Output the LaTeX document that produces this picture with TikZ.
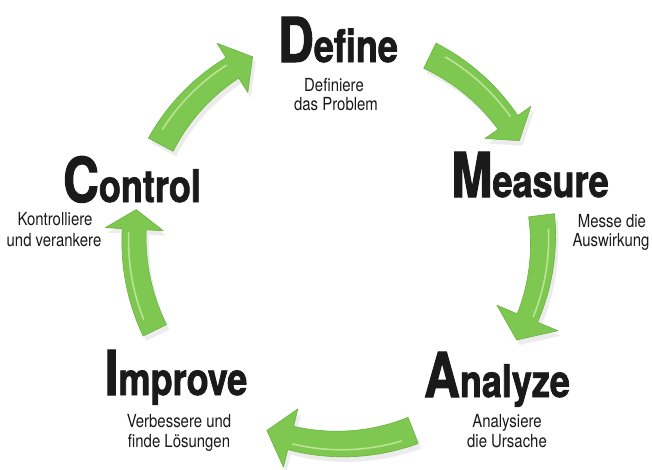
\documentclass[tikz,border=0pt]{standalone}
\usepackage{fontspec}
\newfontfamily\titlef[FakeStretch=0.8,FakeBold=1.6]{TeX Gyre Heros}
\newfontfamily\subf[FakeStretch=0.83]{TeX Gyre Heros}
\definecolor{arrowgreen}{RGB}{126,200,82}
\definecolor{arrowedge}{RGB}{104,180,62}
\definecolor{arrowlight}{RGB}{226,245,190}
\definecolor{inkc}{RGB}{26,26,26}
\tikzset{
  arrowbody/.style={fill=arrowgreen,draw=arrowedge,line width=0.6pt,line join=round},
  arrowshadow/.style={fill=black!18,opacity=0.4},
  arrowshine/.style={draw=arrowlight,line width=1.6pt,line cap=round,opacity=0.6},
  titlebig/.style={inner sep=0pt,anchor=base,text=inkc},
  subline/.style={inner sep=0pt,anchor=base,text=inkc,font=\subf\fontsize{18}{20}\selectfont},
}
% #1 radius, #2 start angle, #3 head base angle, #4 tip angle, #5 tail half width, #6 half width at head, #7 head half width
\newcommand\cyclearrow[7]{%
  \fill[arrowshadow,shift={(3,5)}]
    plot[domain=#2:#3,samples=30] (\x:{#1+#5+(#6-#5)*(\x-#2)/(#3-#2)})
    -- (#3:#1+#7) -- (#4:#1) -- (#3:#1-#7)
    -- plot[domain=#3:#2,samples=30] (\x:{#1-#5-(#6-#5)*(\x-#2)/(#3-#2)}) -- cycle;
  \filldraw[arrowbody]
    plot[domain=#2:#3,samples=30] (\x:{#1+#5+(#6-#5)*(\x-#2)/(#3-#2)})
    -- (#3:#1+#7) -- (#4:#1) -- (#3:#1-#7)
    -- plot[domain=#3:#2,samples=30] (\x:{#1-#5-(#6-#5)*(\x-#2)/(#3-#2)}) -- cycle;
  \draw[arrowshine]
    plot[domain=#2+4:#3-1,samples=20] (\x:{#1+0.45*(#5+(#6-#5)*(\x-#2)/(#3-#2))});
}
\begin{document}
\begin{tikzpicture}[x=1pt,y=-1pt]
\useasboundingbox (0,0) rectangle (652,469);
\fill[white] (0,0) rectangle (652,469);

\begin{scope}[shift={(340,240)}]
  \cyclearrow{203}{208}{238}{244.5}{14}{12}{29}
  \cyclearrow{205}{296}{325}{331}{14}{12}{28}
  \cyclearrow{203}{-7}{22.6}{29.5}{13}{11}{33}
  \cyclearrow{204}{69}{104}{111}{14}{12}{30}
  \cyclearrow{206}{154}{183}{188.5}{13}{12}{29}
\end{scope}

% Titles
\node[titlebig] (tD) at (338,62) {\titlef\bfseries\fontsize{62}{62}\selectfont D\fontsize{45}{45}\selectfont efine};
\node[titlebig] (tM) at (530,197) {\titlef\bfseries\fontsize{62}{62}\selectfont M\fontsize{45}{45}\selectfont easure};
\node[titlebig] (tA) at (497,397) {\titlef\bfseries\fontsize{62}{62}\selectfont A\fontsize{45}{45}\selectfont nalyze};
\node[titlebig] (tC) at (132,202) {\titlef\bfseries\fontsize{62}{62}\selectfont C\fontsize{45}{45}\selectfont ontrol};
\node[titlebig] (tI) at (176,395) {\titlef\bfseries\fontsize{62}{62}\selectfont I\fontsize{45}{45}\selectfont mprove};

% Sub texts
\node[subline] (sD1) at (334,91) {Definiere};
\node[subline] (sD2) at (336,110) {das Problem};
\node[subline] (sM1) at (612,227) {Messe die};
\node[subline] (sM2) at (611,246) {Auswirkung};
\node[subline] (sA1) at (507,427) {Analysiere};
\node[subline] (sA2) at (507,447) {die Ursache};
\node[subline] (sC1) at (55,225) {Kontrolliere};
\node[subline] (sC2) at (54,246) {und verankere};
\node[subline] (sI1) at (179,427) {Verbessere und};
\node[subline] (sI2) at (179,447) {finde Lösungen};
\end{tikzpicture}
\end{document}
